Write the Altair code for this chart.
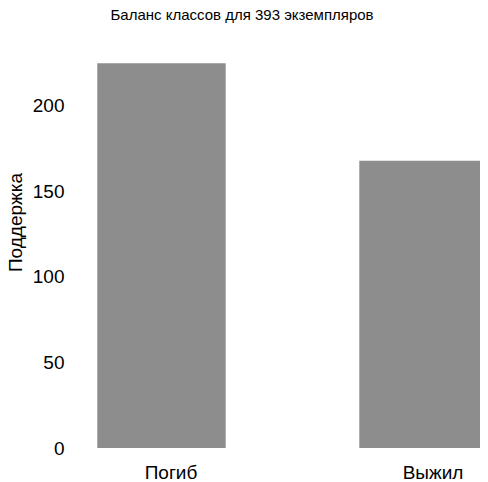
import altair as alt
import pandas as pd

categories = ["Погиб", "Выжил"]
counts = [225, 168]
positions = [0, 1]
title_text = "Баланс классов для 393 экземпляров"
y_title = "Поддержка"
y_ticks = [0, 50, 100, 150, 200]

half = 0.245
df = pd.DataFrame({
    "cat": categories,
    "count": counts,
    "pos": positions,
})
df["x0"] = df["pos"] - half
df["x1"] = df["pos"] + half

label_expr = " : ".join(
    f"datum.value == {p} ? '{c}'" for p, c in zip(positions, categories)
) + " : ''"

FONT = "Liberation Sans"
FS = 19

chart = alt.Chart(df).mark_bar(color="#8d8d8d", clip=True).encode(
    x=alt.X("x0:Q",
            scale=alt.Scale(domain=[-0.311, 1.2156], nice=False, zero=False),
            axis=alt.Axis(values=positions, labelExpr=label_expr, title=None,
                          domain=False, ticks=False, grid=False,
                          labelFontSize=FS, labelFont=FONT, labelColor="#000000",
                          labelPadding=15, labelOffset=9)),
    x2="x1:Q",
    y=alt.Y("count:Q",
            scale=alt.Scale(domain=[0, 232.7], nice=False),
            axis=alt.Axis(values=y_ticks, title=y_title, domain=False, ticks=False,
                          grid=False, labelFontSize=FS, labelFont=FONT,
                          labelColor="#000000", labelPadding=16,
                          titleFontSize=FS, titleFont=FONT, titleFontWeight="normal",
                          titleColor="#000000", titleX=-65, titleY=172,
                          titleBaseline="middle", titleAngle=-90)),
    y2=alt.datum(0),
).properties(
    width=400,
    height=398,
    padding={"left": 72, "top": 42, "right": 0, "bottom": 34},
    autosize="none",
    title=alt.TitleParams(title_text, fontSize=15, font=FONT, fontWeight="normal",
                          color="#000000", anchor="middle", dx=-38, offset=15,
                          baseline="alphabetic"),
).configure_view(stroke=None)

chart.save("out.html", embed_options={"renderer": "svg", "actions": False})
